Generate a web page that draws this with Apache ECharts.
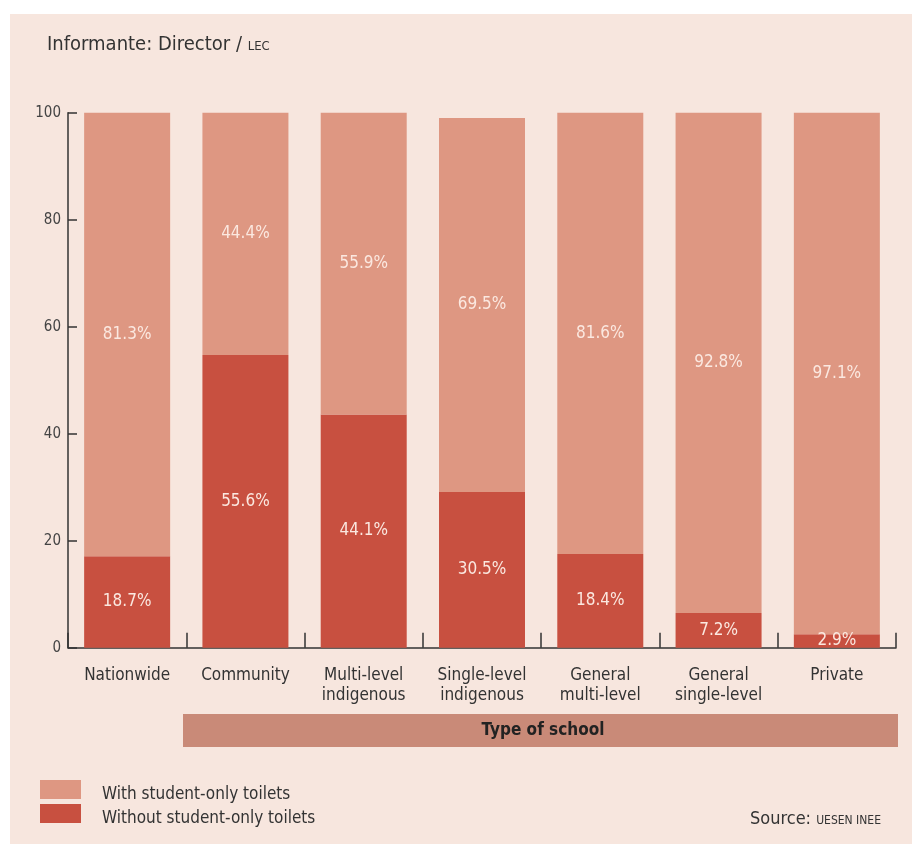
<!DOCTYPE html>
<html>
<head>
<meta charset="utf-8">
<script src="https://cdn.jsdelivr.net/npm/echarts@6/dist/echarts.min.js"></script>
<style>html,body{margin:0;padding:0;background:#fff;}#c{width:912px;height:844px;}</style>
</head>
<body>
<div id="c"></div>
<script>
var categories = ['Nationwide', 'Community', 'Multi-level\nindigenous', 'Single-level\nindigenous', 'General\nmulti-level', 'General\nsingle-level', 'Private'];
// bar heights as drawn in the picture
var withoutValues = [17.1, 54.7, 43.6, 29.1, 17.5, 6.5, 2.5];
var withValues = [82.9, 45.3, 56.4, 69.9, 82.5, 93.5, 97.5];
// printed labels
var withoutLabels = ['18.7%', '55.6%', '44.1%', '30.5%', '18.4%', '7.2%', '2.9%'];
var withLabels = ['81.3%', '44.4%', '55.9%', '69.5%', '81.6%', '92.8%', '97.1%'];
var yTicks = [0, 20, 40, 60, 80, 100];

var FONT = '"Liberation Sans Narrow", "DejaVu Sans Condensed", sans-serif';
var chart = echarts.init(document.getElementById('c'));
var option = {
  backgroundColor: '#ffffff',
  animation: false,
  textStyle: { fontFamily: FONT },
  title: [{
    left: 47, top: 35, padding: 0,
    text: '{a|Informante: Director / }{b|LEC}',
    textStyle: {
      fontWeight: 'normal',
      rich: {
        a: { fontFamily: FONT, fontSize: 20, fontWeight: 'normal', color: '#333' },
        b: { fontFamily: FONT, fontSize: 13, fontWeight: 'normal', color: '#333', padding: [4, 0, 0, 0] }
      }
    }
  }, {
    right: 31, top: 810, padding: 0,
    text: '{a|Source: }{b|UESEN INEE}',
    textStyle: {
      fontWeight: 'normal',
      rich: {
        a: { fontFamily: FONT, fontSize: 18, fontWeight: 'normal', color: '#333' },
        b: { fontFamily: FONT, fontSize: 12, fontWeight: 'normal', color: '#333', padding: [4, 0, 0, 0] }
      }
    }
  }],
  legend: {
    orient: 'vertical', left: 40, top: 780, padding: 0,
    itemWidth: 41, itemHeight: 19, itemGap: 1,
    data: ['With student-only toilets', 'Without student-only toilets'],
    formatter: function (name) { return '{t|' + name + '}'; },
    textStyle: {
      fontFamily: FONT, fontSize: 17, color: '#333',
      rich: { t: { fontFamily: FONT, fontSize: 17, color: '#333', padding: [10, 0, 0, 16] } }
    },
    icon: 'rect'
  },
  graphic: [
    { type: 'rect', z: -10, shape: { x: 10, y: 14, width: 902, height: 830 }, style: { fill: '#f7e6de' } },
    { type: 'rect', z: 1, shape: { x: 183, y: 714, width: 715, height: 33 }, style: { fill: '#c98a78' } },
    { type: 'text', z: 2, x: 543, y: 731, style: { text: 'Type of school', textAlign: 'center', textVerticalAlign: 'middle', fontFamily: FONT, fontSize: 17, fontWeight: 'bold', fill: '#222' } }
  ],
  grid: { left: 68, right: 16, top: 112.7, bottom: 196.3, containLabel: false },
  xAxis: {
    type: 'category',
    data: categories,
    axisLine: { lineStyle: { color: '#333', width: 1.5 } },
    axisTick: { show: true, inside: true, length: 15, alignWithLabel: false, lineStyle: { color: '#333', width: 1.5 } },
    axisLabel: { fontFamily: FONT, fontSize: 17, color: '#333', lineHeight: 20, margin: 18, interval: 0 }
  },
  yAxis: {
    type: 'value', min: 0, max: 100, interval: 20,
    splitLine: { show: false },
    axisLine: { show: true, lineStyle: { color: '#333', width: 1.5 } },
    axisTick: { show: true, inside: true, length: 9, lineStyle: { color: '#333', width: 1.5 } },
    axisLabel: { fontFamily: FONT, fontSize: 15, color: '#444', margin: 7, padding: [0, 0, 10, 0],
      formatter: function (v) { return yTicks.indexOf(v) >= 0 ? String(v) : ''; } }
  },
  series: [{
    name: 'Without student-only toilets',
    type: 'bar', stack: 's', barWidth: 86,
    itemStyle: { color: '#c85040' },
    data: withoutValues,
    label: { show: true, position: 'inside', fontFamily: FONT, fontSize: 17, color: '#fbe8e0',
      formatter: function (p) { return withoutLabels[p.dataIndex]; } }
  }, {
    name: 'With student-only toilets',
    type: 'bar', stack: 's', barWidth: 86,
    itemStyle: { color: '#de9782' },
    data: withValues,
    label: { show: true, position: 'inside', fontFamily: FONT, fontSize: 17, color: '#fbe8e0',
      formatter: function (p) { return withLabels[p.dataIndex]; } }
  }]
};
chart.setOption(option);
</script>
</body>
</html>
